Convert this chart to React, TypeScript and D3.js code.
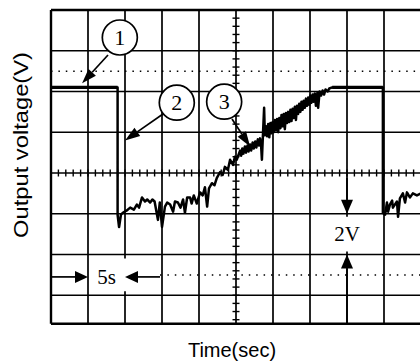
import React from 'react';
import * as d3 from 'd3';

// oscilloscope capture: 5 s / div horizontally, 2 V / div vertically
const timeDivs = [0, 5, 10, 15, 20, 25, 30, 35, 40, 45, 50];
const voltDivs = [6, 4, 2, 0, -2, -4, -6];
const dottedVolts = [5, -5];

const xLabel = 'Time(sec)';
const yLabel = 'Output voltage(V)';

// [time (s), voltage (V)]
const trace: [number, number][] = [
  [0, 4.2], [9.0, 4.2], [9.0, -2.05], [9.2, -2.65], [9.45, -2.05], [9.7, -1.95],
  [10.2, -1.85], [10.7, -1.7], [11.2, -1.8], [11.6, -1.55], [11.9, -1.7], [12.3, -1.2],
  [12.7, -1.4], [13.0, -1.3], [13.4, -1.45], [13.7, -1.3], [14.0, -1.4], [14.45, -2.3],
  [14.7, -1.45], [15.0, -2.65], [15.4, -1.65], [15.7, -1.45], [16.1, -1.55], [16.5, -1.9],
  [16.75, -1.4], [17.15, -1.45], [17.5, -1.7], [17.85, -1.3], [18.1, -1.95], [18.4, -1.2],
  [18.8, -1.2], [19.0, -1.5], [19.3, -1.1], [19.7, -1.5], [20.15, -0.95], [20.5, -1.1],
  [20.8, -0.7], [21.1, -1.65], [21.35, -0.75], [21.75, -0.5], [22.1, -0.6], [22.4, -0.25],
  [22.85, 0.05], [23.2, -0.1], [23.5, 0.3], [23.9, 0.15], [24.2, 0.65], [24.6, 0.4],
  [24.85, 0.8], [25.1, 0.65], [25.55, 1.1], [25.7, 0.85], [25.85, 1.2], [26.0, 0.95],
  [26.2, 1.3], [26.35, 1.0], [26.55, 1.35], [26.7, 1.05], [26.9, 1.4], [27.05, 1.1],
  [27.25, 1.5], [27.4, 1.2], [27.6, 1.55], [27.75, 1.25], [27.95, 1.65], [28.1, 1.35],
  [28.25, 1.7], [28.4, 1.3], [28.5, 0.65], [28.65, 1.95], [28.8, 3.2], [28.9, 1.85],
  [29.05, 2.3], [29.2, 1.8], [29.35, 2.4], [29.5, 1.75], [29.65, 2.45], [29.8, 1.95],
  [29.95, 2.5], [30.1, 2.0], [30.25, 2.6], [30.4, 2.1], [30.55, 2.65], [30.7, 2.0],
  [30.85, 2.7], [31.0, 2.2], [31.15, 2.85], [31.3, 2.3], [31.45, 2.9], [31.6, 2.15],
  [31.75, 2.95], [31.9, 2.45], [32.05, 3.0], [32.2, 2.5], [32.35, 3.1], [32.5, 2.55],
  [32.65, 3.15], [32.8, 2.7], [32.95, 3.25], [33.1, 2.6], [33.25, 3.3], [33.4, 2.9],
  [33.55, 3.4], [33.7, 3.0], [33.85, 3.5], [34.0, 3.1], [34.15, 3.55], [34.3, 3.2],
  [34.45, 3.65], [34.6, 3.3], [34.75, 3.7], [34.9, 3.35], [35.05, 3.8], [35.2, 3.45],
  [35.35, 3.85], [35.5, 3.5], [35.65, 3.9], [35.8, 3.3], [36.0, 3.95], [36.1, 3.2],
  [36.3, 4.0], [36.5, 3.8], [36.7, 4.05], [36.9, 3.85], [37.1, 4.1], [37.4, 4.0],
  [37.6, 4.15], [38.0, 4.2],
  [44.85, 4.2], [44.85, -1.95], [45.15, -2.05], [45.4, -1.45], [45.55, -1.9], [45.8, -1.55],
  [46.1, -1.35], [46.2, -1.7], [46.75, -1.4], [46.9, -2.15], [47.15, -1.25], [47.55, -1.0],
  [47.85, -1.45], [48.1, -0.95], [48.5, -1.2], [48.9, -1.0], [49.45, -1.1], [50, -1.0],
];

const W = 420;
const H = 363;

const x = d3.scaleLinear().domain([0, 50]).range([51, 421]);
const y = d3.scaleLinear().domain([-8, 8]).range([336, 10]);
const vBottom = -7.4;

const serif = '"Liberation Serif", "Times New Roman", serif';
const sans = '"Liberation Sans", Arial, Helvetica, sans-serif';

function Arrow({ x1, y1, x2, y2, len = 13, w = 10 }: { x1: number; y1: number; x2: number; y2: number; len?: number; w?: number }) {
  const a = Math.atan2(y2 - y1, x2 - x1);
  const bx = x2 - len * Math.cos(a);
  const by = y2 - len * Math.sin(a);
  const px = (-Math.sin(a) * w) / 2;
  const py = (Math.cos(a) * w) / 2;
  return (
    <g>
      <line x1={x1} y1={y1} x2={bx} y2={by} stroke="#000" strokeWidth={1.7} />
      <polygon points={`${x2},${y2} ${bx + px},${by + py} ${bx - px},${by - py}`} fill="#000" />
    </g>
  );
}

function Callout({ t, v, label }: { t: number; v: number; label: string }) {
  return (
    <g>
      <circle cx={x(t)} cy={y(v)} r={17.5} fill="#fff" stroke="#000" strokeWidth={1.7} />
      <text x={x(t)} y={y(v) + 7.5} textAnchor="middle" fontFamily={serif} fontSize={22}>{label}</text>
    </g>
  );
}

export default function App() {
  const line = d3.line<[number, number]>().x(d => x(d[0])).y(d => y(d[1]));
  const top = y(8);
  const bottom = y(vBottom);
  const hTicks = d3.range(0, 50.01, 1);
  const vTicks = d3.range(-7.2, 8, 0.4);

  return (
    <svg width={W} height={H} style={{ position: 'absolute', left: 0, top: 0, background: '#fff' }}>
      {/* grid */}
      <g stroke="#000">
        {timeDivs.map(t => (
          <line key={'v' + t} x1={x(t)} x2={x(t)} y1={top} y2={bottom} strokeWidth={t === 0 ? 2.4 : 1.7} />
        ))}
        {voltDivs.map(v => (
          <line key={'h' + v} x1={x(0)} x2={x(50)} y1={y(v)} y2={y(v)} strokeWidth={1.7} />
        ))}
        <line x1={x(0)} x2={x(50)} y1={top} y2={top} strokeWidth={2.4} />
        <line x1={x(0)} x2={x(50)} y1={bottom} y2={bottom} strokeWidth={2.4} />
        {dottedVolts.map(v => (
          <line key={'d' + v} x1={v < 0 ? 160 : x(0)} x2={x(50)} y1={y(v)} y2={y(v)}
            strokeWidth={1.5} strokeDasharray="1.5 5.9" />
        ))}
        {hTicks.map(t => (
          <line key={'ht' + t} x1={x(t)} x2={x(t)} y1={y(0) - 3.5} y2={y(0) + 3.5} strokeWidth={1.4} />
        ))}
        {vTicks.map(v => (
          <line key={'vt' + v} x1={x(25) - 3.5} x2={x(25) + 3.5} y1={y(v)} y2={y(v)} strokeWidth={1.4} />
        ))}
      </g>

      {/* label boxes */}
      <rect x={92} y={y(-4) + 4} width={66} height={y(-6) - y(-4) - 8} fill="#fff" />
      <rect x={x(40) - 16} y={y(-2) + 3} width={32} height={y(-4) - y(-2) - 6} fill="#fff" />

      {/* trace */}
      <path d={line(trace) ?? ''} fill="none" stroke="#000" strokeWidth={2.5} strokeLinejoin="round" />
      <line x1={x(0)} x2={x(9)} y1={y(4.2)} y2={y(4.2)} stroke="#000" strokeWidth={3.2} />
      <line x1={x(38)} x2={x(44.85)} y1={y(4.2)} y2={y(4.2)} stroke="#000" strokeWidth={3.2} />

      {/* callouts */}
      <Arrow x1={108} y1={55} x2={x(4.2)} y2={y(4.4)} len={15} w={10} />
      <Arrow x1={163} y1={114} x2={x(10)} y2={y(1.6)} len={15} w={10} />
      <Arrow x1={232} y1={119} x2={x(26.9)} y2={y(1.3)} len={15} w={10} />
      <Callout t={9.3} v={6.65} label="1" />
      <Callout t={17.0} v={3.45} label="2" />
      <Callout t={23.4} v={3.5} label="3" />

      {/* 5 s marker */}
      <Arrow x1={x(0)} y1={y(-5.1)} x2={x(5)} y2={y(-5.1)} len={13} w={12} />
      <Arrow x1={160} y1={y(-5.1)} x2={x(10)} y2={y(-5.1)} len={13} w={12} />
      <text x={x(7.5)} y={y(-5.1) + 7} textAnchor="middle" fontFamily={serif} fontSize={21}>5s</text>

      {/* 2 V marker */}
      <Arrow x1={x(40)} y1={y(-0.25)} x2={x(40)} y2={y(-2)} len={14} w={12} />
      <Arrow x1={x(40)} y1={bottom} x2={x(40)} y2={y(-4)} len={14} w={12} />
      <text x={x(40)} y={y(-3) + 7} textAnchor="middle" fontFamily={serif} fontSize={21}>2V</text>

      {/* axis titles */}
      <text transform={`translate(28, 145) rotate(-90)`} textAnchor="middle" fontFamily={sans} fontSize={21}
        textLength={186} lengthAdjust="spacingAndGlyphs">{yLabel}</text>
      <text x={232} y={357} textAnchor="middle" fontFamily={sans} fontSize={20}>{xLabel}</text>
    </svg>
  );
}
